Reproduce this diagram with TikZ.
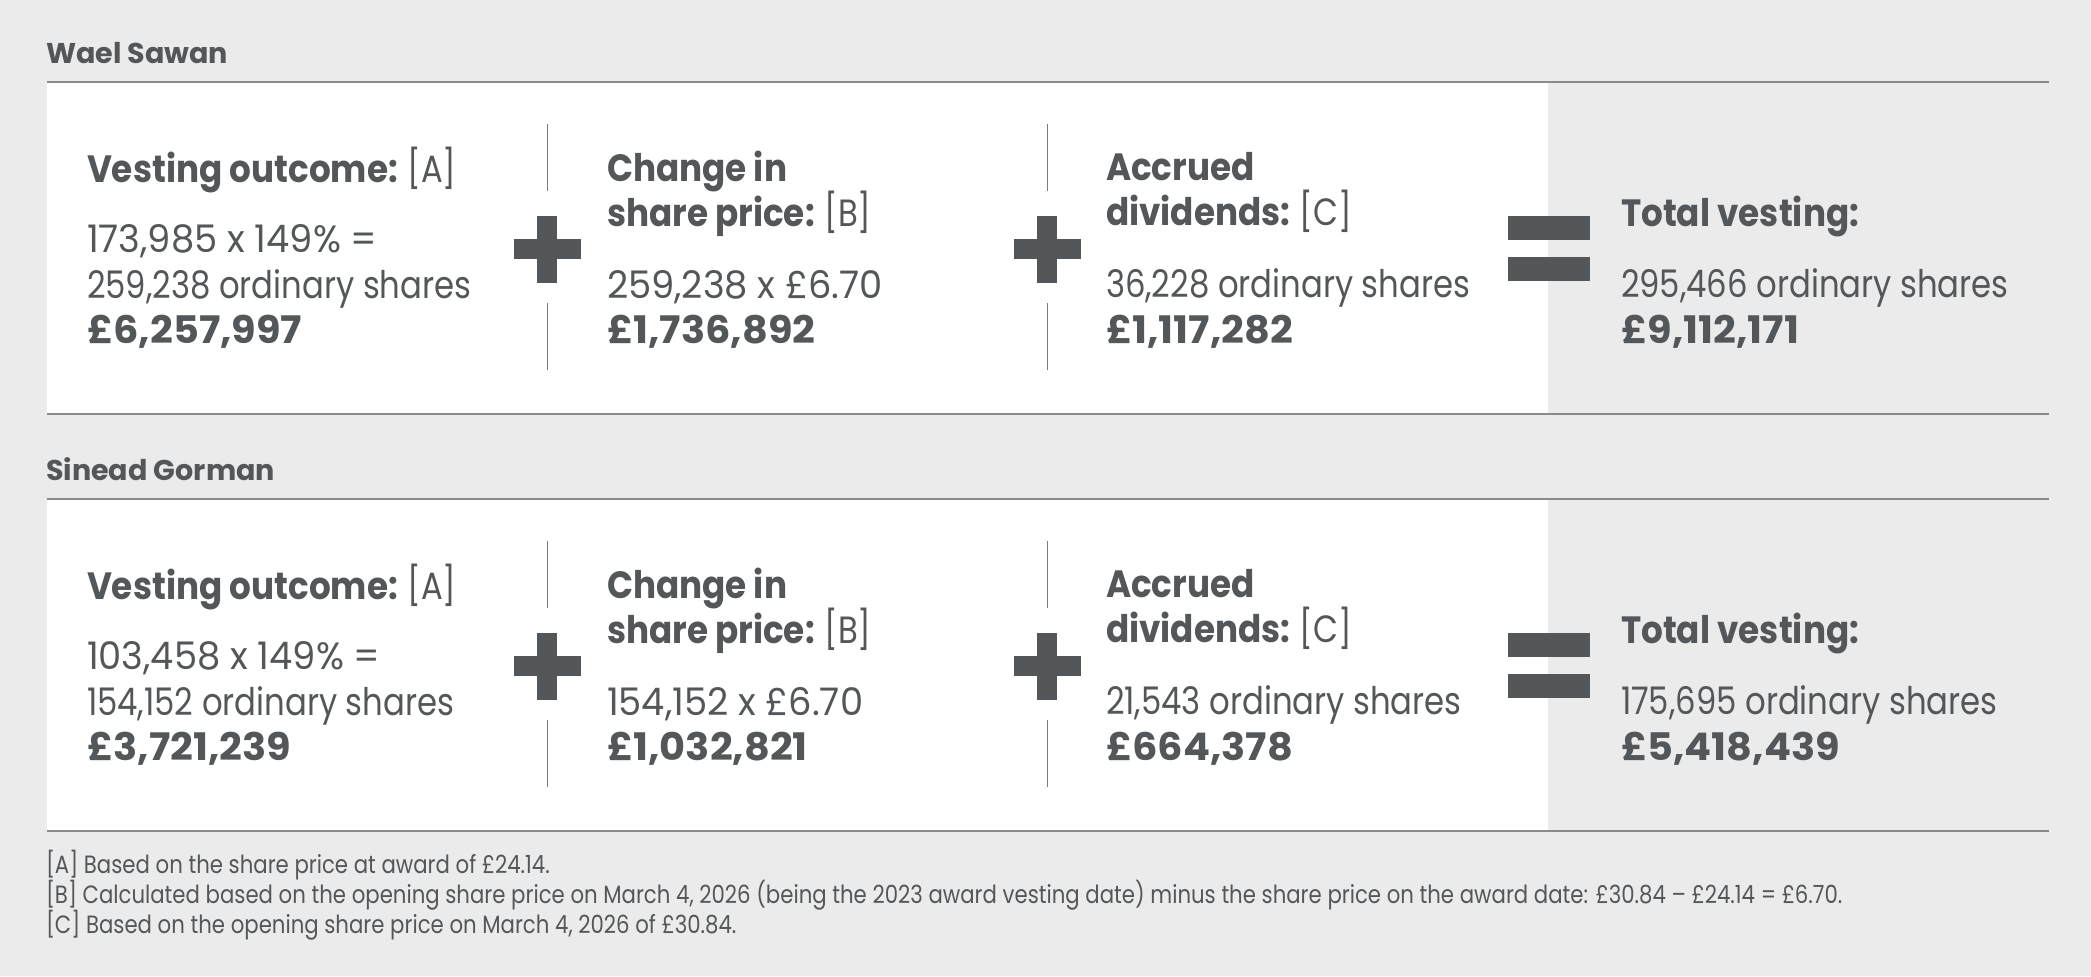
\documentclass[tikz,border=0pt]{standalone}
\usepackage{fontspec}
\setmainfont{Poppins}[FakeStretch=0.85,BoldFeatures={FakeStretch=0.9}]
\newfontfamily\numfont{Poppins}[FakeStretch=0.97]
\newfontfamily\amountfont{Poppins}[FakeStretch=1.05]
\newfontfamily\namefont{Poppins}[FakeStretch=1.0]
\usetikzlibrary{positioning}

\definecolor{pagegray}{HTML}{EBEBEB}
\definecolor{inkgray}{HTML}{53575A}
\definecolor{rulegray}{HTML}{8A8A8A}
\definecolor{divgray}{HTML}{7A7A7A}

\begin{document}
\begin{tikzpicture}
	[
	x=0.5pt,y=-0.5pt,
	every node/.style={inner sep=0pt,outer sep=0pt,anchor=base west,text=inkgray},
	name text/.style={font=\namefont\fontsize{14.3}{16}\selectfont\bfseries},
	head text/.style={font=\fontsize{19}{22}\selectfont\bfseries},
	body text/.style={font=\fontsize{19}{22}\selectfont},
	num text/.style={font=\numfont\fontsize{19}{22}\selectfont},
	amount text/.style={font=\amountfont\fontsize{19}{22}\selectfont\bfseries},
	note text/.style={font=\fontsize{12.5}{14}\selectfont},
	panel rule/.style={draw=rulegray,line width=1pt},
	divider/.style={draw=divgray,line width=0.5pt},
	sign/.style={fill=inkgray}
	]
	
	% Page and bounding box
	\useasboundingbox[fill=pagegray](0,0)rectangle(2091,976);
	
	% Two panels, one per executive
	\foreach \dy in {0, 417}{
		\fill[white](47,83+\dy)rectangle(1548,413+\dy);
		\draw[panel rule](47,82+\dy)--(2049,82+\dy);
		\draw[panel rule](47,414+\dy)--(2049,414+\dy);
		% dividers and plus signs
		\foreach \x in {547, 1047}{
			\draw[divider](\x,124+\dy)--(\x,191+\dy);
			\draw[divider](\x,303+\dy)--(\x,370+\dy);
			\fill[sign](\x-33.5,239+\dy)rectangle(\x+33.5,259+\dy);
			\fill[sign](\x-10,216+\dy)rectangle(\x+10,283+\dy);
		}
		% equals sign
		\fill[sign](1508,216+\dy)rectangle(1590,240+\dy);
		\fill[sign](1508,257+\dy)rectangle(1590,281+\dy);
	}
	
	% Wael Sawan
	\node[name text](ws)at(46,63){Wael Sawan};
	\node[head text](ws-a)at(87,182){Vesting outcome: \mdseries[A]};
	\node[num text](ws-a1)at(87,252){173,985 x 149\% =};
	\node[body text](ws-a2)at(87,298){259,238 ordinary shares};
	\node[amount text](ws-a3)at(87,343){£6,257,997};
	\node[head text](ws-b)at(607,181){Change in};
	\node[head text](ws-b0)at(607,226){share price: \mdseries[B]};
	\node[num text](ws-b1)at(607,298){259,238 x £6.70};
	\node[amount text](ws-b2)at(607,343){£1,736,892};
	\node[head text](ws-c)at(1106,180){Accrued};
	\node[head text](ws-c0)at(1106,225){dividends: \mdseries[C]};
	\node[body text](ws-c1)at(1106,297){36,228 ordinary shares};
	\node[amount text](ws-c2)at(1106,343){£1,117,282};
	\node[head text](ws-t)at(1621,226){Total vesting:};
	\node[body text](ws-t1)at(1621,297){295,466 ordinary shares};
	\node[amount text](ws-t2)at(1621,343){£9,112,171};
	
	% Sinead Gorman
	\begin{scope}[yshift=-208.5pt]
		\node[name text](sg)at(46,63){Sinead Gorman};
		\node[head text](sg-a)at(87,182){Vesting outcome: \mdseries[A]};
		\node[num text](sg-a1)at(87,252){103,458 x 149\% =};
		\node[body text](sg-a2)at(87,298){154,152 ordinary shares};
		\node[amount text](sg-a3)at(87,343){£3,721,239};
		\node[head text](sg-b)at(607,181){Change in};
		\node[head text](sg-b0)at(607,226){share price: \mdseries[B]};
		\node[num text](sg-b1)at(607,298){154,152 x £6.70};
		\node[amount text](sg-b2)at(607,343){£1,032,821};
		\node[head text](sg-c)at(1106,180){Accrued};
		\node[head text](sg-c0)at(1106,225){dividends: \mdseries[C]};
		\node[body text](sg-c1)at(1106,297){21,543 ordinary shares};
		\node[amount text](sg-c2)at(1106,343){£664,378};
		\node[head text](sg-t)at(1621,226){Total vesting:};
		\node[body text](sg-t1)at(1621,297){175,695 ordinary shares};
		\node[amount text](sg-t2)at(1621,343){£5,418,439};
	\end{scope}
	
	% Footnotes
	\node[note text](na)at(46,873){[A] Based on the share price at award of £24.14.};
	\node[note text](nb)at(46,903){[B] Calculated based on the opening share price on March 4, 2026 (being the 2023 award vesting date) minus the share price on the award date: £30.84 – £24.14 = £6.70.};
	\node[note text](nc)at(46,933){[C] Based on the opening share price on March 4, 2026 of £30.84.};
\end{tikzpicture}
\end{document}
